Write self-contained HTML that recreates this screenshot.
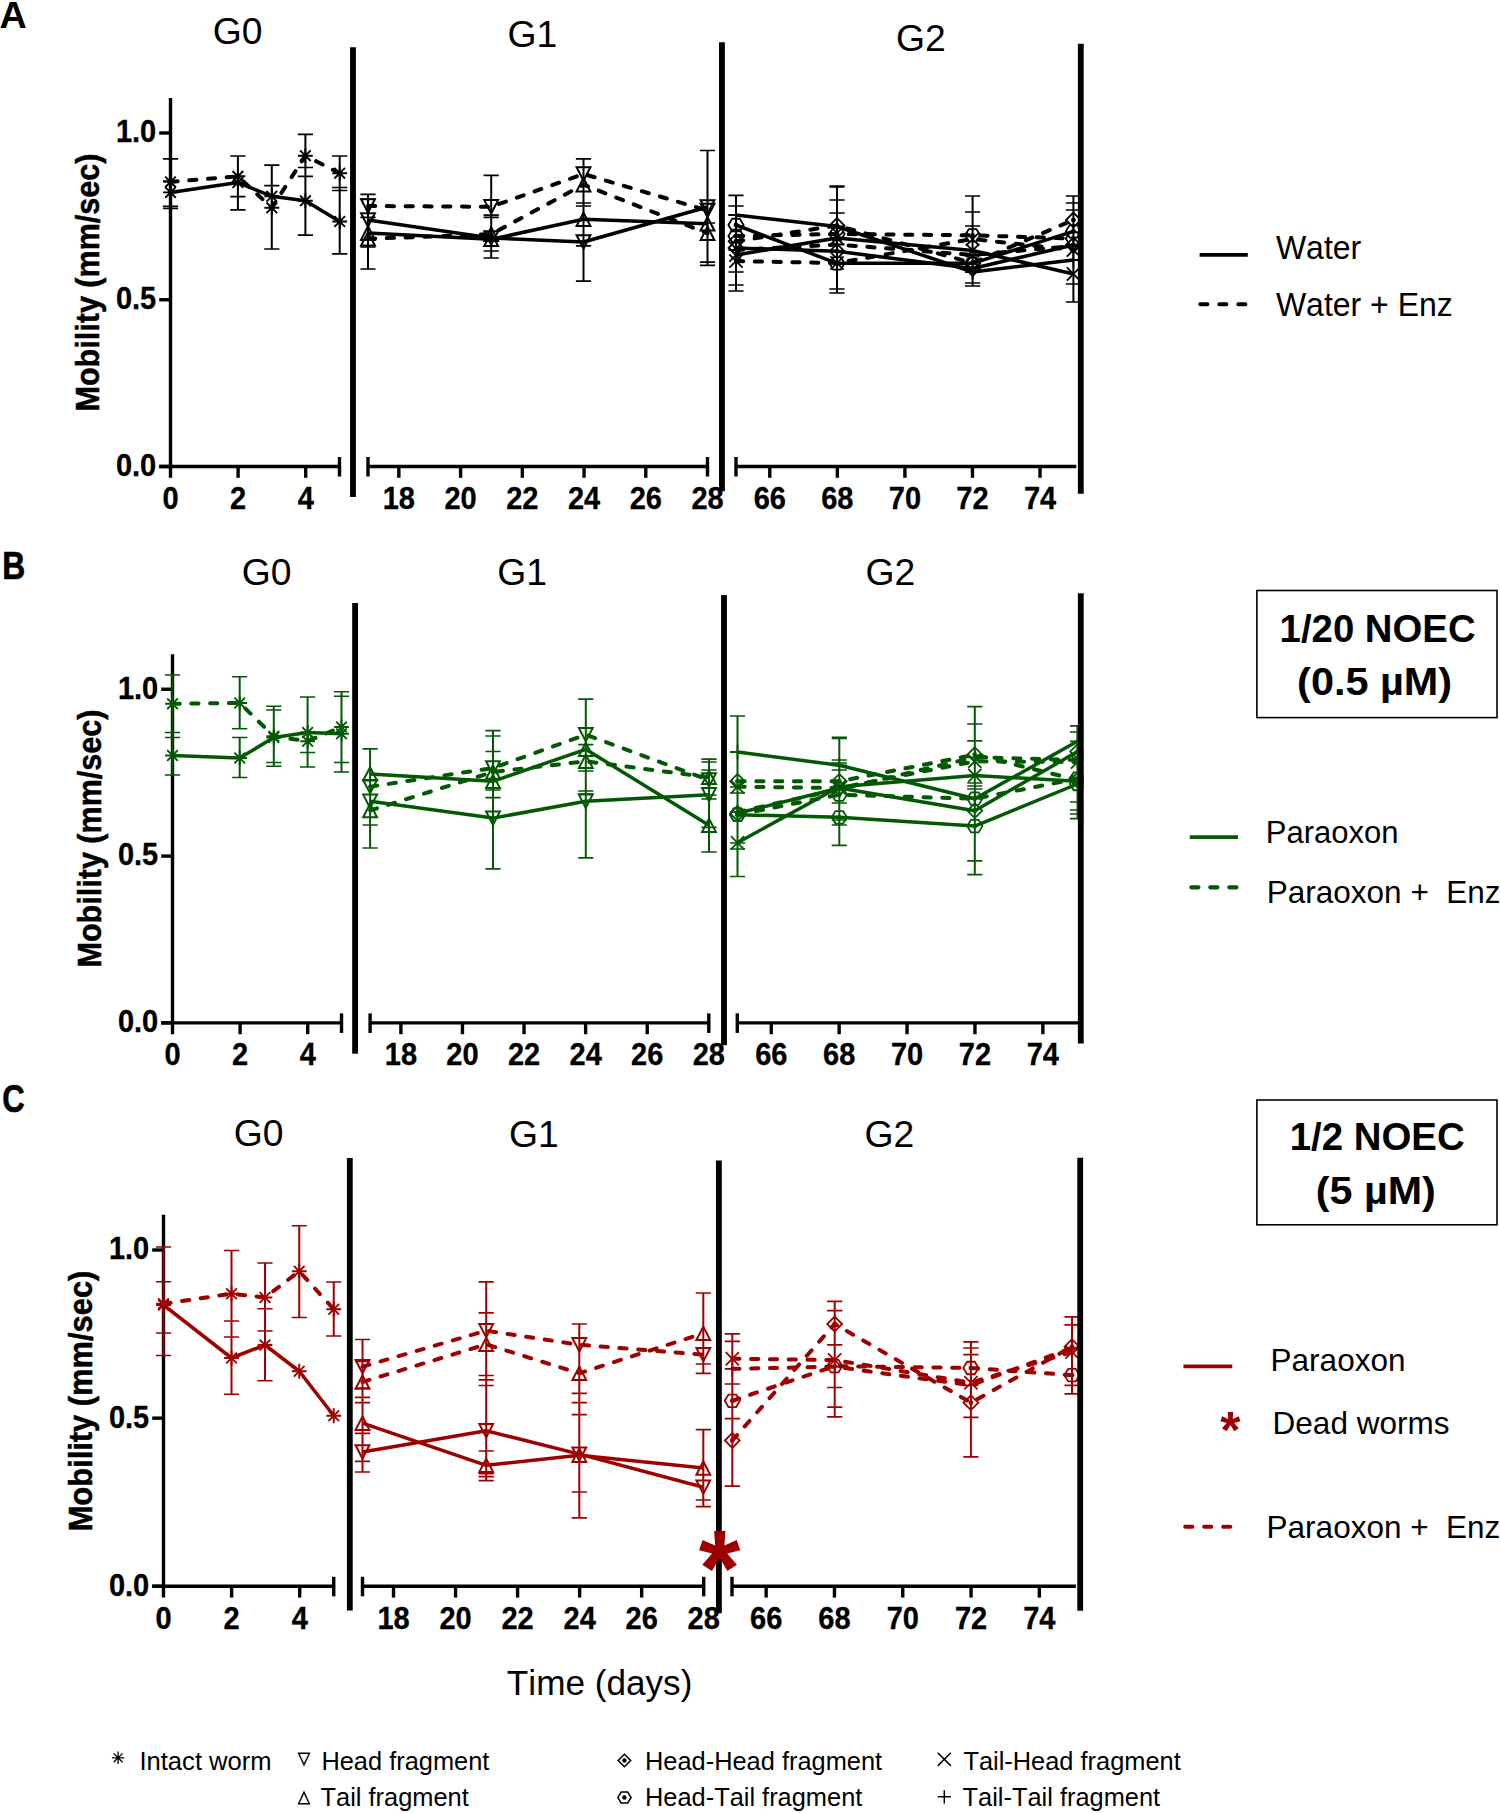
<!DOCTYPE html>
<html lang="en">
<head>
<meta charset="utf-8">
<title>Mobility of worms over generations</title>
<style>
html,body{margin:0;padding:0;background:#fff;}
body{width:1500px;height:1813px;font-family:"Liberation Sans",sans-serif;}
svg{display:block;}
text{font-kerning:none;white-space:pre;}
</style>
</head>
<body>
<svg width="1500" height="1813" viewBox="0 0 1500 1813" font-family='"Liberation Sans", sans-serif' role="img" aria-label="Mobility of worms over generations G0, G1 and G2">
<rect x="0" y="0" width="1500" height="1813" fill="#ffffff"/>
<defs><clipPath id="plotclip"><rect x="0" y="0" width="1083.4" height="1813"/></clipPath></defs>
<g>
<line x1="170.5" y1="97.98" x2="170.5" y2="477.8" stroke="#000000" stroke-width="3.4" stroke-linecap="butt"/>
<line x1="159.2" y1="466.5" x2="170.5" y2="466.5" stroke="#000000" stroke-width="3.4" stroke-linecap="butt"/>
<text x="0" y="0" font-size="29" font-weight="bold" text-anchor="end" transform="translate(156.2 475.9) scale(1 1.08)" stroke="#000000" stroke-width="0.3" fill="#000000">0.0</text>
<line x1="159.2" y1="299.75" x2="170.5" y2="299.75" stroke="#000000" stroke-width="3.4" stroke-linecap="butt"/>
<text x="0" y="0" font-size="29" font-weight="bold" text-anchor="end" transform="translate(156.2 309.15) scale(1 1.08)" stroke="#000000" stroke-width="0.3" fill="#000000">0.5</text>
<line x1="159.2" y1="133" x2="170.5" y2="133" stroke="#000000" stroke-width="3.4" stroke-linecap="butt"/>
<text x="0" y="0" font-size="29" font-weight="bold" text-anchor="end" transform="translate(156.2 142.4) scale(1 1.08)" stroke="#000000" stroke-width="0.3" fill="#000000">1.0</text>
<line x1="159.2" y1="466.5" x2="339.5" y2="466.5" stroke="#000000" stroke-width="3.4" stroke-linecap="butt"/>
<line x1="339.5" y1="457" x2="339.5" y2="476.5" stroke="#000000" stroke-width="3.4" stroke-linecap="butt"/>
<text x="0" y="0" font-size="29" font-weight="bold" text-anchor="middle" transform="translate(170.5 509) scale(1 1.08)" stroke="#000000" stroke-width="0.3" fill="#000000">0</text>
<line x1="238.1" y1="466.5" x2="238.1" y2="477.8" stroke="#000000" stroke-width="3.4" stroke-linecap="butt"/>
<text x="0" y="0" font-size="29" font-weight="bold" text-anchor="middle" transform="translate(238.1 509) scale(1 1.08)" stroke="#000000" stroke-width="0.3" fill="#000000">2</text>
<line x1="305.7" y1="466.5" x2="305.7" y2="477.8" stroke="#000000" stroke-width="3.4" stroke-linecap="butt"/>
<text x="0" y="0" font-size="29" font-weight="bold" text-anchor="middle" transform="translate(305.7 509) scale(1 1.08)" stroke="#000000" stroke-width="0.3" fill="#000000">4</text>
<line x1="368" y1="466.5" x2="707.5" y2="466.5" stroke="#000000" stroke-width="3.4" stroke-linecap="butt"/>
<line x1="368" y1="457" x2="368" y2="476.5" stroke="#000000" stroke-width="3.4" stroke-linecap="butt"/>
<line x1="707.5" y1="457" x2="707.5" y2="476.5" stroke="#000000" stroke-width="3.4" stroke-linecap="butt"/>
<line x1="398.86" y1="466.5" x2="398.86" y2="477.8" stroke="#000000" stroke-width="3.4" stroke-linecap="butt"/>
<text x="0" y="0" font-size="29" font-weight="bold" text-anchor="middle" transform="translate(398.86 509) scale(1 1.08)" stroke="#000000" stroke-width="0.3" fill="#000000">18</text>
<line x1="460.59" y1="466.5" x2="460.59" y2="477.8" stroke="#000000" stroke-width="3.4" stroke-linecap="butt"/>
<text x="0" y="0" font-size="29" font-weight="bold" text-anchor="middle" transform="translate(460.59 509) scale(1 1.08)" stroke="#000000" stroke-width="0.3" fill="#000000">20</text>
<line x1="522.32" y1="466.5" x2="522.32" y2="477.8" stroke="#000000" stroke-width="3.4" stroke-linecap="butt"/>
<text x="0" y="0" font-size="29" font-weight="bold" text-anchor="middle" transform="translate(522.32 509) scale(1 1.08)" stroke="#000000" stroke-width="0.3" fill="#000000">22</text>
<line x1="584.05" y1="466.5" x2="584.05" y2="477.8" stroke="#000000" stroke-width="3.4" stroke-linecap="butt"/>
<text x="0" y="0" font-size="29" font-weight="bold" text-anchor="middle" transform="translate(584.05 509) scale(1 1.08)" stroke="#000000" stroke-width="0.3" fill="#000000">24</text>
<line x1="645.77" y1="466.5" x2="645.77" y2="477.8" stroke="#000000" stroke-width="3.4" stroke-linecap="butt"/>
<text x="0" y="0" font-size="29" font-weight="bold" text-anchor="middle" transform="translate(645.77 509) scale(1 1.08)" stroke="#000000" stroke-width="0.3" fill="#000000">26</text>
<text x="0" y="0" font-size="29" font-weight="bold" text-anchor="middle" transform="translate(707.5 509) scale(1 1.08)" stroke="#000000" stroke-width="0.3" fill="#000000">28</text>
<line x1="736" y1="466.5" x2="1076.3" y2="466.5" stroke="#000000" stroke-width="3.4" stroke-linecap="butt"/>
<line x1="736" y1="457" x2="736" y2="476.5" stroke="#000000" stroke-width="3.4" stroke-linecap="butt"/>
<line x1="769.78" y1="466.5" x2="769.78" y2="477.8" stroke="#000000" stroke-width="3.4" stroke-linecap="butt"/>
<text x="0" y="0" font-size="29" font-weight="bold" text-anchor="middle" transform="translate(769.78 509) scale(1 1.08)" stroke="#000000" stroke-width="0.3" fill="#000000">66</text>
<line x1="837.34" y1="466.5" x2="837.34" y2="477.8" stroke="#000000" stroke-width="3.4" stroke-linecap="butt"/>
<text x="0" y="0" font-size="29" font-weight="bold" text-anchor="middle" transform="translate(837.34 509) scale(1 1.08)" stroke="#000000" stroke-width="0.3" fill="#000000">68</text>
<line x1="904.9" y1="466.5" x2="904.9" y2="477.8" stroke="#000000" stroke-width="3.4" stroke-linecap="butt"/>
<text x="0" y="0" font-size="29" font-weight="bold" text-anchor="middle" transform="translate(904.9 509) scale(1 1.08)" stroke="#000000" stroke-width="0.3" fill="#000000">70</text>
<line x1="972.46" y1="466.5" x2="972.46" y2="477.8" stroke="#000000" stroke-width="3.4" stroke-linecap="butt"/>
<text x="0" y="0" font-size="29" font-weight="bold" text-anchor="middle" transform="translate(972.46 509) scale(1 1.08)" stroke="#000000" stroke-width="0.3" fill="#000000">72</text>
<line x1="1040.02" y1="466.5" x2="1040.02" y2="477.8" stroke="#000000" stroke-width="3.4" stroke-linecap="butt"/>
<text x="0" y="0" font-size="29" font-weight="bold" text-anchor="middle" transform="translate(1040.02 509) scale(1 1.08)" stroke="#000000" stroke-width="0.3" fill="#000000">74</text>
<text x="0" y="0" font-size="33" font-weight="bold" textLength="258" lengthAdjust="spacingAndGlyphs" transform="translate(99.1 411.5) rotate(-90)" stroke="#000000" stroke-width="0.5" fill="#000000">Mobility (mm/sec)</text>
<g clip-path="url(#plotclip)">
<path d="M170.5 158.8V208.5" stroke="#000000" stroke-width="2.0" fill="none"/>
<path d="M162.9 158.8H178.1M162.9 181H178.1M162.9 206.4H178.1M162.9 208.5H178.1" stroke="#000000" stroke-width="1.7" fill="none"/>
<path d="M237.9 156V209.9" stroke="#000000" stroke-width="2.0" fill="none"/>
<path d="M230.3 156H245.5M230.3 196.6H245.5M230.3 209.9H245.5" stroke="#000000" stroke-width="1.7" fill="none"/>
<path d="M271.8 165.1V249" stroke="#000000" stroke-width="2.0" fill="none"/>
<path d="M264.2 165.1H279.4M264.2 185.7H279.4M264.2 249H279.4" stroke="#000000" stroke-width="1.7" fill="none"/>
<path d="M305.4 134.3V235.1" stroke="#000000" stroke-width="2.0" fill="none"/>
<path d="M297.8 134.3H313M297.8 167.5H313M297.8 176.3H313M297.8 235.1H313" stroke="#000000" stroke-width="1.7" fill="none"/>
<path d="M339.7 156V253.9" stroke="#000000" stroke-width="2.0" fill="none"/>
<path d="M332.1 156H347.3M332.1 187.5H347.3M332.1 190.5H347.3M332.1 253.9H347.3" stroke="#000000" stroke-width="1.7" fill="none"/>
<path d="M368 194.4V269" stroke="#000000" stroke-width="2.0" fill="none"/>
<path d="M360.4 194.4H375.6M360.4 199H375.6M360.4 217.3H375.6M360.4 240H375.6M360.4 247H375.6M360.4 269H375.6" stroke="#000000" stroke-width="1.7" fill="none"/>
<path d="M491.2 175.3V258" stroke="#000000" stroke-width="2.0" fill="none"/>
<path d="M483.6 175.3H498.8M483.6 215.2H498.8M483.6 217.3H498.8M483.6 251H498.8M483.6 258H498.8" stroke="#000000" stroke-width="1.7" fill="none"/>
<path d="M583.5 158.8V281.2" stroke="#000000" stroke-width="2.0" fill="none"/>
<path d="M575.9 158.8H591.1M575.9 203H591.1M575.9 206H591.1M575.9 245.8H591.1M575.9 281.2H591.1" stroke="#000000" stroke-width="1.7" fill="none"/>
<path d="M707.5 150.5V265.4" stroke="#000000" stroke-width="2.0" fill="none"/>
<path d="M699.9 150.5H715.1M699.9 223H715.1M699.9 262.2H715.1M699.9 265.4H715.1" stroke="#000000" stroke-width="1.7" fill="none"/>
<path d="M736 195.3V291" stroke="#000000" stroke-width="2.0" fill="none"/>
<path d="M728.4 195.3H743.6M728.4 206H743.6M728.4 215H743.6M728.4 272H743.6M728.4 285H743.6M728.4 291H743.6" stroke="#000000" stroke-width="1.7" fill="none"/>
<path d="M837 186V293" stroke="#000000" stroke-width="2.0" fill="none"/>
<path d="M829.4 186H844.6M829.4 187H844.6M829.4 200H844.6M829.4 213H844.6M829.4 289H844.6M829.4 293H844.6" stroke="#000000" stroke-width="1.7" fill="none"/>
<path d="M972.6 196V286" stroke="#000000" stroke-width="2.0" fill="none"/>
<path d="M965 196H980.2M965 212H980.2M965 226H980.2M965 283H980.2M965 286H980.2" stroke="#000000" stroke-width="1.7" fill="none"/>
<path d="M1073.4 196V302" stroke="#000000" stroke-width="2.0" fill="none"/>
<path d="M1065.8 196H1081M1065.8 203H1081M1065.8 210H1081M1065.8 284H1081M1065.8 302H1081" stroke="#000000" stroke-width="1.7" fill="none"/>
<polyline points="170.5,192.4 237.9,182.6 271.8,196.3 305.4,200.8 339.7,221.5" fill="none" stroke="#000000" stroke-width="3.5" stroke-linejoin="round"/>
<path d="M163.1 192.4H177.9M170.5 185V199.8M165.17 187.07L175.83 197.73M165.17 197.73L175.83 187.07" stroke="#000000" stroke-width="1.9" fill="none"/>
<path d="M230.5 182.6H245.3M237.9 175.2V190M232.57 177.27L243.23 187.93M232.57 187.93L243.23 177.27" stroke="#000000" stroke-width="1.9" fill="none"/>
<path d="M264.4 196.3H279.2M271.8 188.9V203.7M266.47 190.97L277.13 201.63M266.47 201.63L277.13 190.97" stroke="#000000" stroke-width="1.9" fill="none"/>
<path d="M298 200.8H312.8M305.4 193.4V208.2M300.07 195.47L310.73 206.13M300.07 206.13L310.73 195.47" stroke="#000000" stroke-width="1.9" fill="none"/>
<path d="M332.3 221.5H347.1M339.7 214.1V228.9M334.37 216.17L345.03 226.83M334.37 226.83L345.03 216.17" stroke="#000000" stroke-width="1.9" fill="none"/>
<polyline points="170.5,181.9 237.9,176.3 271.8,207.8 305.4,155.7 339.7,173.2" fill="none" stroke="#000000" stroke-width="4" stroke-linecap="round" stroke-linejoin="round" stroke-dasharray="7.2 11.6"/>
<path d="M163.1 181.9H177.9M170.5 174.5V189.3M165.17 176.57L175.83 187.23M165.17 187.23L175.83 176.57" stroke="#000000" stroke-width="1.9" fill="none"/>
<path d="M230.5 176.3H245.3M237.9 168.9V183.7M232.57 170.97L243.23 181.63M232.57 181.63L243.23 170.97" stroke="#000000" stroke-width="1.9" fill="none"/>
<path d="M264.4 207.8H279.2M271.8 200.4V215.2M266.47 202.47L277.13 213.13M266.47 213.13L277.13 202.47" stroke="#000000" stroke-width="1.9" fill="none"/>
<path d="M298 155.7H312.8M305.4 148.3V163.1M300.07 150.37L310.73 161.03M300.07 161.03L310.73 150.37" stroke="#000000" stroke-width="1.9" fill="none"/>
<path d="M332.3 173.2H347.1M339.7 165.8V180.6M334.37 167.87L345.03 178.53M334.37 178.53L345.03 167.87" stroke="#000000" stroke-width="1.9" fill="none"/>
<polyline points="368,206 491.2,206.8 583.5,174 707.5,210.5" fill="none" stroke="#000000" stroke-width="4" stroke-linecap="round" stroke-linejoin="round" stroke-dasharray="7.2 11.6"/>
<path d="M361.1 199.3H374.9L368 212.7Z" stroke="#000000" stroke-width="2.0" fill="none" stroke-linejoin="miter"/>
<path d="M484.3 200.1H498.1L491.2 213.5Z" stroke="#000000" stroke-width="2.0" fill="none" stroke-linejoin="miter"/>
<path d="M576.6 167.3H590.4L583.5 180.7Z" stroke="#000000" stroke-width="2.0" fill="none" stroke-linejoin="miter"/>
<path d="M700.6 203.8H714.4L707.5 217.2Z" stroke="#000000" stroke-width="2.0" fill="none" stroke-linejoin="miter"/>
<polyline points="368,238.8 491.2,234.2 583.5,184.7 707.5,233.3" fill="none" stroke="#000000" stroke-width="4" stroke-linecap="round" stroke-linejoin="round" stroke-dasharray="7.2 11.6"/>
<path d="M361.1 245.5H374.9L368 232.1Z" stroke="#000000" stroke-width="2.0" fill="none" stroke-linejoin="miter"/>
<path d="M484.3 240.9H498.1L491.2 227.5Z" stroke="#000000" stroke-width="2.0" fill="none" stroke-linejoin="miter"/>
<path d="M576.6 191.4H590.4L583.5 178Z" stroke="#000000" stroke-width="2.0" fill="none" stroke-linejoin="miter"/>
<path d="M700.6 240H714.4L707.5 226.6Z" stroke="#000000" stroke-width="2.0" fill="none" stroke-linejoin="miter"/>
<polyline points="368,220 491.2,238 583.5,242 707.5,207" fill="none" stroke="#000000" stroke-width="3.5" stroke-linejoin="round"/>
<path d="M361.1 213.3H374.9L368 226.7Z" stroke="#000000" stroke-width="2.0" fill="none" stroke-linejoin="miter"/>
<path d="M484.3 231.3H498.1L491.2 244.7Z" stroke="#000000" stroke-width="2.0" fill="none" stroke-linejoin="miter"/>
<path d="M576.6 235.3H590.4L583.5 248.7Z" stroke="#000000" stroke-width="2.0" fill="none" stroke-linejoin="miter"/>
<path d="M700.6 200.3H714.4L707.5 213.7Z" stroke="#000000" stroke-width="2.0" fill="none" stroke-linejoin="miter"/>
<polyline points="368,233 491.2,239.3 583.5,219.3 707.5,223.8" fill="none" stroke="#000000" stroke-width="3.5" stroke-linejoin="round"/>
<path d="M361.1 239.7H374.9L368 226.3Z" stroke="#000000" stroke-width="2.0" fill="none" stroke-linejoin="miter"/>
<path d="M484.3 246H498.1L491.2 232.6Z" stroke="#000000" stroke-width="2.0" fill="none" stroke-linejoin="miter"/>
<path d="M576.6 226H590.4L583.5 212.6Z" stroke="#000000" stroke-width="2.0" fill="none" stroke-linejoin="miter"/>
<path d="M700.6 230.5H714.4L707.5 217.1Z" stroke="#000000" stroke-width="2.0" fill="none" stroke-linejoin="miter"/>
<polyline points="736,215 837,226.5 972.6,272 1073.4,260" fill="none" stroke="#000000" stroke-width="3.5" stroke-linejoin="round"/>
<path d="M728.5 215H743.5M736 207.5V222.5" stroke="#000000" stroke-width="1.8" fill="none"/>
<path d="M829.5 226.5H844.5M837 219V234" stroke="#000000" stroke-width="1.8" fill="none"/>
<path d="M965.1 272H980.1M972.6 264.5V279.5" stroke="#000000" stroke-width="1.8" fill="none"/>
<path d="M1065.9 260H1080.9M1073.4 252.5V267.5" stroke="#000000" stroke-width="1.8" fill="none"/>
<polyline points="736,225 837,263.3 972.6,263.3 1073.4,231.3" fill="none" stroke="#000000" stroke-width="3.5" stroke-linejoin="round"/>
<path d="M743.6 225L739.8 231.25L732.2 231.25L728.4 225L732.2 218.75L739.8 218.75Z" stroke="#000000" stroke-width="1.8" fill="none"/>
<circle cx="736" cy="225" r="2.4" fill="#000000"/>
<path d="M844.6 263.3L840.8 269.55L833.2 269.55L829.4 263.3L833.2 257.05L840.8 257.05Z" stroke="#000000" stroke-width="1.8" fill="none"/>
<circle cx="837" cy="263.3" r="2.4" fill="#000000"/>
<path d="M980.2 263.3L976.4 269.55L968.8 269.55L965 263.3L968.8 257.05L976.4 257.05Z" stroke="#000000" stroke-width="1.8" fill="none"/>
<circle cx="972.6" cy="263.3" r="2.4" fill="#000000"/>
<path d="M1081 231.3L1077.2 237.55L1069.6 237.55L1065.8 231.3L1069.6 225.05L1077.2 225.05Z" stroke="#000000" stroke-width="1.8" fill="none"/>
<circle cx="1073.4" cy="231.3" r="2.4" fill="#000000"/>
<polyline points="736,255 837,238 972.6,250.5 1073.4,274" fill="none" stroke="#000000" stroke-width="3.5" stroke-linejoin="round"/>
<path d="M729.4 248.4L742.6 261.6M729.4 261.6L742.6 248.4" stroke="#000000" stroke-width="1.8" fill="none"/>
<path d="M830.4 231.4L843.6 244.6M830.4 244.6L843.6 231.4" stroke="#000000" stroke-width="1.8" fill="none"/>
<path d="M966 243.9L979.2 257.1M966 257.1L979.2 243.9" stroke="#000000" stroke-width="1.8" fill="none"/>
<path d="M1066.8 267.4L1080 280.6M1066.8 280.6L1080 267.4" stroke="#000000" stroke-width="1.8" fill="none"/>
<polyline points="736,248 837,251.3 972.6,268.5 1073.4,245" fill="none" stroke="#000000" stroke-width="3.5" stroke-linejoin="round"/>
<path d="M728.6 248L736 240.6L743.4 248L736 255.4Z" stroke="#000000" stroke-width="1.8" fill="none"/>
<circle cx="736" cy="248" r="2.4" fill="#000000"/>
<path d="M829.6 251.3L837 243.9L844.4 251.3L837 258.7Z" stroke="#000000" stroke-width="1.8" fill="none"/>
<circle cx="837" cy="251.3" r="2.4" fill="#000000"/>
<path d="M965.2 268.5L972.6 261.1L980 268.5L972.6 275.9Z" stroke="#000000" stroke-width="1.8" fill="none"/>
<circle cx="972.6" cy="268.5" r="2.4" fill="#000000"/>
<path d="M1066 245L1073.4 237.6L1080.8 245L1073.4 252.4Z" stroke="#000000" stroke-width="1.8" fill="none"/>
<circle cx="1073.4" cy="245" r="2.4" fill="#000000"/>
<polyline points="736,241.3 837,225.5 972.6,263 1073.4,220" fill="none" stroke="#000000" stroke-width="4" stroke-linecap="round" stroke-linejoin="round" stroke-dasharray="7.2 11.6"/>
<path d="M728.6 241.3L736 233.9L743.4 241.3L736 248.7Z" stroke="#000000" stroke-width="1.8" fill="none"/>
<circle cx="736" cy="241.3" r="2.4" fill="#000000"/>
<path d="M829.6 225.5L837 218.1L844.4 225.5L837 232.9Z" stroke="#000000" stroke-width="1.8" fill="none"/>
<circle cx="837" cy="225.5" r="2.4" fill="#000000"/>
<path d="M965.2 263L972.6 255.6L980 263L972.6 270.4Z" stroke="#000000" stroke-width="1.8" fill="none"/>
<circle cx="972.6" cy="263" r="2.4" fill="#000000"/>
<path d="M1066 220L1073.4 212.6L1080.8 220L1073.4 227.4Z" stroke="#000000" stroke-width="1.8" fill="none"/>
<circle cx="1073.4" cy="220" r="2.4" fill="#000000"/>
<polyline points="736,236 837,234 972.6,235.3 1073.4,238.5" fill="none" stroke="#000000" stroke-width="4" stroke-linecap="round" stroke-linejoin="round" stroke-dasharray="7.2 11.6"/>
<path d="M743.6 236L739.8 242.25L732.2 242.25L728.4 236L732.2 229.75L739.8 229.75Z" stroke="#000000" stroke-width="1.8" fill="none"/>
<circle cx="736" cy="236" r="2.4" fill="#000000"/>
<path d="M844.6 234L840.8 240.25L833.2 240.25L829.4 234L833.2 227.75L840.8 227.75Z" stroke="#000000" stroke-width="1.8" fill="none"/>
<circle cx="837" cy="234" r="2.4" fill="#000000"/>
<path d="M980.2 235.3L976.4 241.55L968.8 241.55L965 235.3L968.8 229.05L976.4 229.05Z" stroke="#000000" stroke-width="1.8" fill="none"/>
<circle cx="972.6" cy="235.3" r="2.4" fill="#000000"/>
<path d="M1081 238.5L1077.2 244.75L1069.6 244.75L1065.8 238.5L1069.6 232.25L1077.2 232.25Z" stroke="#000000" stroke-width="1.8" fill="none"/>
<circle cx="1073.4" cy="238.5" r="2.4" fill="#000000"/>
<polyline points="736,261.1 837,263 972.6,239 1073.4,250" fill="none" stroke="#000000" stroke-width="4" stroke-linecap="round" stroke-linejoin="round" stroke-dasharray="7.2 11.6"/>
<path d="M729.4 254.5L742.6 267.7M729.4 267.7L742.6 254.5" stroke="#000000" stroke-width="1.8" fill="none"/>
<path d="M830.4 256.4L843.6 269.6M830.4 269.6L843.6 256.4" stroke="#000000" stroke-width="1.8" fill="none"/>
<path d="M966 232.4L979.2 245.6M966 245.6L979.2 232.4" stroke="#000000" stroke-width="1.8" fill="none"/>
<path d="M1066.8 243.4L1080 256.6M1066.8 256.6L1080 243.4" stroke="#000000" stroke-width="1.8" fill="none"/>
<polyline points="736,250 837,244.5 972.6,255 1073.4,246" fill="none" stroke="#000000" stroke-width="4" stroke-linecap="round" stroke-linejoin="round" stroke-dasharray="7.2 11.6"/>
<path d="M728.5 250H743.5M736 242.5V257.5" stroke="#000000" stroke-width="1.8" fill="none"/>
<path d="M829.5 244.5H844.5M837 237V252" stroke="#000000" stroke-width="1.8" fill="none"/>
<path d="M965.1 255H980.1M972.6 247.5V262.5" stroke="#000000" stroke-width="1.8" fill="none"/>
<path d="M1065.9 246H1080.9M1073.4 238.5V253.5" stroke="#000000" stroke-width="1.8" fill="none"/>
</g>
<line x1="353" y1="47.2" x2="353" y2="497" stroke="#000000" stroke-width="5.85" stroke-linecap="butt"/>
<line x1="721.95" y1="42.3" x2="721.95" y2="491.3" stroke="#000000" stroke-width="5.85" stroke-linecap="butt"/>
<line x1="1080.8" y1="43.7" x2="1080.8" y2="493.8" stroke="#000000" stroke-width="5.85" stroke-linecap="butt"/>
<text x="0" y="0" font-size="37.3" text-anchor="middle" transform="translate(237.5 44) scale(1 1.01)" fill="#000000">G0</text>
<text x="0" y="0" font-size="37.3" text-anchor="middle" transform="translate(532.35 46.7) scale(1 1.01)" fill="#000000">G1</text>
<text x="0" y="0" font-size="37.3" text-anchor="middle" transform="translate(920.8 51) scale(1 1.01)" fill="#000000">G2</text>
</g>
<g>
<line x1="172.5" y1="654.22" x2="172.5" y2="1034.2" stroke="#000000" stroke-width="3.4" stroke-linecap="butt"/>
<line x1="161.2" y1="1022.9" x2="172.5" y2="1022.9" stroke="#000000" stroke-width="3.4" stroke-linecap="butt"/>
<text x="0" y="0" font-size="29" font-weight="bold" text-anchor="end" transform="translate(158.2 1032.3) scale(1 1.08)" stroke="#000000" stroke-width="0.3" fill="#000000">0.0</text>
<line x1="161.2" y1="856.08" x2="172.5" y2="856.08" stroke="#000000" stroke-width="3.4" stroke-linecap="butt"/>
<text x="0" y="0" font-size="29" font-weight="bold" text-anchor="end" transform="translate(158.2 865.48) scale(1 1.08)" stroke="#000000" stroke-width="0.3" fill="#000000">0.5</text>
<line x1="161.2" y1="689.25" x2="172.5" y2="689.25" stroke="#000000" stroke-width="3.4" stroke-linecap="butt"/>
<text x="0" y="0" font-size="29" font-weight="bold" text-anchor="end" transform="translate(158.2 698.65) scale(1 1.08)" stroke="#000000" stroke-width="0.3" fill="#000000">1.0</text>
<line x1="161.2" y1="1022.9" x2="341.5" y2="1022.9" stroke="#000000" stroke-width="3.4" stroke-linecap="butt"/>
<line x1="341.5" y1="1013.4" x2="341.5" y2="1032.9" stroke="#000000" stroke-width="3.4" stroke-linecap="butt"/>
<text x="0" y="0" font-size="29" font-weight="bold" text-anchor="middle" transform="translate(172.5 1065.4) scale(1 1.08)" stroke="#000000" stroke-width="0.3" fill="#000000">0</text>
<line x1="240.1" y1="1022.9" x2="240.1" y2="1034.2" stroke="#000000" stroke-width="3.4" stroke-linecap="butt"/>
<text x="0" y="0" font-size="29" font-weight="bold" text-anchor="middle" transform="translate(240.1 1065.4) scale(1 1.08)" stroke="#000000" stroke-width="0.3" fill="#000000">2</text>
<line x1="307.7" y1="1022.9" x2="307.7" y2="1034.2" stroke="#000000" stroke-width="3.4" stroke-linecap="butt"/>
<text x="0" y="0" font-size="29" font-weight="bold" text-anchor="middle" transform="translate(307.7 1065.4) scale(1 1.08)" stroke="#000000" stroke-width="0.3" fill="#000000">4</text>
<line x1="370.1" y1="1022.9" x2="708.8" y2="1022.9" stroke="#000000" stroke-width="3.4" stroke-linecap="butt"/>
<line x1="370.1" y1="1013.4" x2="370.1" y2="1032.9" stroke="#000000" stroke-width="3.4" stroke-linecap="butt"/>
<line x1="708.8" y1="1013.4" x2="708.8" y2="1032.9" stroke="#000000" stroke-width="3.4" stroke-linecap="butt"/>
<line x1="400.89" y1="1022.9" x2="400.89" y2="1034.2" stroke="#000000" stroke-width="3.4" stroke-linecap="butt"/>
<text x="0" y="0" font-size="29" font-weight="bold" text-anchor="middle" transform="translate(400.89 1065.4) scale(1 1.08)" stroke="#000000" stroke-width="0.3" fill="#000000">18</text>
<line x1="462.47" y1="1022.9" x2="462.47" y2="1034.2" stroke="#000000" stroke-width="3.4" stroke-linecap="butt"/>
<text x="0" y="0" font-size="29" font-weight="bold" text-anchor="middle" transform="translate(462.47 1065.4) scale(1 1.08)" stroke="#000000" stroke-width="0.3" fill="#000000">20</text>
<line x1="524.05" y1="1022.9" x2="524.05" y2="1034.2" stroke="#000000" stroke-width="3.4" stroke-linecap="butt"/>
<text x="0" y="0" font-size="29" font-weight="bold" text-anchor="middle" transform="translate(524.05 1065.4) scale(1 1.08)" stroke="#000000" stroke-width="0.3" fill="#000000">22</text>
<line x1="585.64" y1="1022.9" x2="585.64" y2="1034.2" stroke="#000000" stroke-width="3.4" stroke-linecap="butt"/>
<text x="0" y="0" font-size="29" font-weight="bold" text-anchor="middle" transform="translate(585.64 1065.4) scale(1 1.08)" stroke="#000000" stroke-width="0.3" fill="#000000">24</text>
<line x1="647.22" y1="1022.9" x2="647.22" y2="1034.2" stroke="#000000" stroke-width="3.4" stroke-linecap="butt"/>
<text x="0" y="0" font-size="29" font-weight="bold" text-anchor="middle" transform="translate(647.22 1065.4) scale(1 1.08)" stroke="#000000" stroke-width="0.3" fill="#000000">26</text>
<text x="0" y="0" font-size="29" font-weight="bold" text-anchor="middle" transform="translate(708.8 1065.4) scale(1 1.08)" stroke="#000000" stroke-width="0.3" fill="#000000">28</text>
<line x1="737.3" y1="1022.9" x2="1078" y2="1022.9" stroke="#000000" stroke-width="3.4" stroke-linecap="butt"/>
<line x1="737.3" y1="1013.4" x2="737.3" y2="1032.9" stroke="#000000" stroke-width="3.4" stroke-linecap="butt"/>
<line x1="771.25" y1="1022.9" x2="771.25" y2="1034.2" stroke="#000000" stroke-width="3.4" stroke-linecap="butt"/>
<text x="0" y="0" font-size="29" font-weight="bold" text-anchor="middle" transform="translate(771.25 1065.4) scale(1 1.08)" stroke="#000000" stroke-width="0.3" fill="#000000">66</text>
<line x1="839.15" y1="1022.9" x2="839.15" y2="1034.2" stroke="#000000" stroke-width="3.4" stroke-linecap="butt"/>
<text x="0" y="0" font-size="29" font-weight="bold" text-anchor="middle" transform="translate(839.15 1065.4) scale(1 1.08)" stroke="#000000" stroke-width="0.3" fill="#000000">68</text>
<line x1="907.05" y1="1022.9" x2="907.05" y2="1034.2" stroke="#000000" stroke-width="3.4" stroke-linecap="butt"/>
<text x="0" y="0" font-size="29" font-weight="bold" text-anchor="middle" transform="translate(907.05 1065.4) scale(1 1.08)" stroke="#000000" stroke-width="0.3" fill="#000000">70</text>
<line x1="974.95" y1="1022.9" x2="974.95" y2="1034.2" stroke="#000000" stroke-width="3.4" stroke-linecap="butt"/>
<text x="0" y="0" font-size="29" font-weight="bold" text-anchor="middle" transform="translate(974.95 1065.4) scale(1 1.08)" stroke="#000000" stroke-width="0.3" fill="#000000">72</text>
<line x1="1042.85" y1="1022.9" x2="1042.85" y2="1034.2" stroke="#000000" stroke-width="3.4" stroke-linecap="butt"/>
<text x="0" y="0" font-size="29" font-weight="bold" text-anchor="middle" transform="translate(1042.85 1065.4) scale(1 1.08)" stroke="#000000" stroke-width="0.3" fill="#000000">74</text>
<text x="0" y="0" font-size="33" font-weight="bold" textLength="258" lengthAdjust="spacingAndGlyphs" transform="translate(101.2 967.5) rotate(-90)" stroke="#000000" stroke-width="0.5" fill="#000000">Mobility (mm/sec)</text>
<g clip-path="url(#plotclip)">
<path d="M172.5 675V775" stroke="#035803" stroke-width="2.0" fill="none"/>
<path d="M164.9 675H180.1M164.9 732.5H180.1M164.9 737.5H180.1M164.9 775H180.1" stroke="#035803" stroke-width="1.7" fill="none"/>
<path d="M239.7 676.75V728.75" stroke="#035803" stroke-width="2.0" fill="none"/>
<path d="M232.1 676.75H247.3M232.1 728.75H247.3" stroke="#035803" stroke-width="1.7" fill="none"/>
<path d="M239.7 737.5V777.5" stroke="#035803" stroke-width="2.0" fill="none"/>
<path d="M232.1 737.5H247.3M232.1 777.5H247.3" stroke="#035803" stroke-width="1.7" fill="none"/>
<path d="M273.8 706.25V766.25" stroke="#035803" stroke-width="2.0" fill="none"/>
<path d="M266.2 706.25H281.4M266.2 710H281.4M266.2 762.5H281.4M266.2 766.25H281.4" stroke="#035803" stroke-width="1.7" fill="none"/>
<path d="M307.6 697V767" stroke="#035803" stroke-width="2.0" fill="none"/>
<path d="M300 697H315.2M300 752.5H315.2M300 767H315.2" stroke="#035803" stroke-width="1.7" fill="none"/>
<path d="M341.5 691.75V772" stroke="#035803" stroke-width="2.0" fill="none"/>
<path d="M333.9 691.75H349.1M333.9 696.25H349.1M333.9 762.5H349.1M333.9 772H349.1" stroke="#035803" stroke-width="1.7" fill="none"/>
<path d="M370.1 748.8V848" stroke="#035803" stroke-width="2.0" fill="none"/>
<path d="M362.5 748.8H377.7M362.5 780H377.7M362.5 825H377.7M362.5 848H377.7" stroke="#035803" stroke-width="1.7" fill="none"/>
<path d="M493 730.7V868.8" stroke="#035803" stroke-width="2.0" fill="none"/>
<path d="M485.4 730.7H500.6M485.4 736H500.6M485.4 751.5H500.6M485.4 790H500.6M485.4 797.6H500.6M485.4 868.8H500.6" stroke="#035803" stroke-width="1.7" fill="none"/>
<path d="M585.8 699.2V857.9" stroke="#035803" stroke-width="2.0" fill="none"/>
<path d="M578.2 699.2H593.4M578.2 744.7H593.4M578.2 771H593.4M578.2 791H593.4M578.2 794H593.4M578.2 857.9H593.4" stroke="#035803" stroke-width="1.7" fill="none"/>
<path d="M709 759.2V852" stroke="#035803" stroke-width="2.0" fill="none"/>
<path d="M701.4 759.2H716.6M701.4 762H716.6M701.4 770H716.6M701.4 795H716.6M701.4 799H716.6M701.4 827.3H716.6M701.4 852H716.6" stroke="#035803" stroke-width="1.7" fill="none"/>
<path d="M737.5 716V876.5" stroke="#035803" stroke-width="2.0" fill="none"/>
<path d="M729.9 716H745.1M729.9 752H745.1M729.9 787H745.1M729.9 793H745.1M729.9 843H745.1M729.9 849H745.1M729.9 876.5H745.1" stroke="#035803" stroke-width="1.7" fill="none"/>
<path d="M839.3 737.3V845.3" stroke="#035803" stroke-width="2.0" fill="none"/>
<path d="M831.7 737.3H846.9M831.7 738.3H846.9M831.7 760H846.9M831.7 763H846.9M831.7 770H846.9M831.7 803H846.9M831.7 820H846.9M831.7 825H846.9M831.7 845.3H846.9" stroke="#035803" stroke-width="1.7" fill="none"/>
<path d="M974.8 706.7V874.7" stroke="#035803" stroke-width="2.0" fill="none"/>
<path d="M967.2 706.7H982.4M967.2 724H982.4M967.2 740.8H982.4M967.2 783H982.4M967.2 786H982.4M967.2 789H982.4M967.2 860.8H982.4M967.2 874.7H982.4" stroke="#035803" stroke-width="1.7" fill="none"/>
<path d="M1077.5 725.9V818.7" stroke="#035803" stroke-width="2.0" fill="none"/>
<path d="M1069.9 725.9H1085.1M1069.9 732H1085.1M1069.9 802H1085.1M1069.9 810H1085.1M1069.9 814H1085.1M1069.9 818.7H1085.1" stroke="#035803" stroke-width="1.7" fill="none"/>
<polyline points="172.5,755.5 239.7,758 273.8,737.5 307.6,732.5 341.5,733.75" fill="none" stroke="#035803" stroke-width="3.5" stroke-linejoin="round"/>
<path d="M165.1 755.5H179.9M172.5 748.1V762.9M167.17 750.17L177.83 760.83M167.17 760.83L177.83 750.17" stroke="#035803" stroke-width="1.9" fill="none"/>
<path d="M232.3 758H247.1M239.7 750.6V765.4M234.37 752.67L245.03 763.33M234.37 763.33L245.03 752.67" stroke="#035803" stroke-width="1.9" fill="none"/>
<path d="M266.4 737.5H281.2M273.8 730.1V744.9M268.47 732.17L279.13 742.83M268.47 742.83L279.13 732.17" stroke="#035803" stroke-width="1.9" fill="none"/>
<path d="M300.2 732.5H315M307.6 725.1V739.9M302.27 727.17L312.93 737.83M302.27 737.83L312.93 727.17" stroke="#035803" stroke-width="1.9" fill="none"/>
<path d="M334.1 733.75H348.9M341.5 726.35V741.15M336.17 728.42L346.83 739.08M336.17 739.08L346.83 728.42" stroke="#035803" stroke-width="1.9" fill="none"/>
<polyline points="172.5,703.75 239.7,703 273.8,736.25 307.6,741.25 341.5,727" fill="none" stroke="#035803" stroke-width="4" stroke-linecap="round" stroke-linejoin="round" stroke-dasharray="7.2 11.6"/>
<path d="M165.1 703.75H179.9M172.5 696.35V711.15M167.17 698.42L177.83 709.08M167.17 709.08L177.83 698.42" stroke="#035803" stroke-width="1.9" fill="none"/>
<path d="M232.3 703H247.1M239.7 695.6V710.4M234.37 697.67L245.03 708.33M234.37 708.33L245.03 697.67" stroke="#035803" stroke-width="1.9" fill="none"/>
<path d="M266.4 736.25H281.2M273.8 728.85V743.65M268.47 730.92L279.13 741.58M268.47 741.58L279.13 730.92" stroke="#035803" stroke-width="1.9" fill="none"/>
<path d="M300.2 741.25H315M307.6 733.85V748.65M302.27 735.92L312.93 746.58M302.27 746.58L312.93 735.92" stroke="#035803" stroke-width="1.9" fill="none"/>
<path d="M334.1 727H348.9M341.5 719.6V734.4M336.17 721.67L346.83 732.33M336.17 732.33L346.83 721.67" stroke="#035803" stroke-width="1.9" fill="none"/>
<polyline points="370.1,773.9 493,781.3 585.8,749.3 709,825.3" fill="none" stroke="#035803" stroke-width="3.5" stroke-linejoin="round"/>
<path d="M363.2 780.6H377L370.1 767.2Z" stroke="#035803" stroke-width="2.0" fill="none" stroke-linejoin="miter"/>
<path d="M486.1 788H499.9L493 774.6Z" stroke="#035803" stroke-width="2.0" fill="none" stroke-linejoin="miter"/>
<path d="M578.9 756H592.7L585.8 742.6Z" stroke="#035803" stroke-width="2.0" fill="none" stroke-linejoin="miter"/>
<path d="M702.1 832H715.9L709 818.6Z" stroke="#035803" stroke-width="2.0" fill="none" stroke-linejoin="miter"/>
<polyline points="370.1,801.3 493,818.1 585.8,801.3 709,794.7" fill="none" stroke="#035803" stroke-width="3.5" stroke-linejoin="round"/>
<path d="M363.2 794.6H377L370.1 808Z" stroke="#035803" stroke-width="2.0" fill="none" stroke-linejoin="miter"/>
<path d="M486.1 811.4H499.9L493 824.8Z" stroke="#035803" stroke-width="2.0" fill="none" stroke-linejoin="miter"/>
<path d="M578.9 794.6H592.7L585.8 808Z" stroke="#035803" stroke-width="2.0" fill="none" stroke-linejoin="miter"/>
<path d="M702.1 788H715.9L709 801.4Z" stroke="#035803" stroke-width="2.0" fill="none" stroke-linejoin="miter"/>
<polyline points="370.1,786.7 493,768 585.8,734.7 709,780" fill="none" stroke="#035803" stroke-width="4" stroke-linecap="round" stroke-linejoin="round" stroke-dasharray="7.2 11.6"/>
<path d="M363.2 780H377L370.1 793.4Z" stroke="#035803" stroke-width="2.0" fill="none" stroke-linejoin="miter"/>
<path d="M486.1 761.3H499.9L493 774.7Z" stroke="#035803" stroke-width="2.0" fill="none" stroke-linejoin="miter"/>
<path d="M578.9 728H592.7L585.8 741.4Z" stroke="#035803" stroke-width="2.0" fill="none" stroke-linejoin="miter"/>
<path d="M702.1 773.3H715.9L709 786.7Z" stroke="#035803" stroke-width="2.0" fill="none" stroke-linejoin="miter"/>
<polyline points="370.1,810.5 493,772 585.8,761.3 709,777.3" fill="none" stroke="#035803" stroke-width="4" stroke-linecap="round" stroke-linejoin="round" stroke-dasharray="7.2 11.6"/>
<path d="M363.2 817.2H377L370.1 803.8Z" stroke="#035803" stroke-width="2.0" fill="none" stroke-linejoin="miter"/>
<path d="M486.1 778.7H499.9L493 765.3Z" stroke="#035803" stroke-width="2.0" fill="none" stroke-linejoin="miter"/>
<path d="M578.9 768H592.7L585.8 754.6Z" stroke="#035803" stroke-width="2.0" fill="none" stroke-linejoin="miter"/>
<path d="M702.1 784H715.9L709 770.6Z" stroke="#035803" stroke-width="2.0" fill="none" stroke-linejoin="miter"/>
<polyline points="737.5,752 839.3,765.3 974.8,798.7 1077.5,741.3" fill="none" stroke="#035803" stroke-width="3.5" stroke-linejoin="round"/>
<path d="M730 752H745M737.5 744.5V759.5" stroke="#035803" stroke-width="1.8" fill="none"/>
<path d="M831.8 765.3H846.8M839.3 757.8V772.8" stroke="#035803" stroke-width="1.8" fill="none"/>
<path d="M967.3 798.7H982.3M974.8 791.2V806.2" stroke="#035803" stroke-width="1.8" fill="none"/>
<path d="M1070 741.3H1085M1077.5 733.8V748.8" stroke="#035803" stroke-width="1.8" fill="none"/>
<polyline points="737.5,814.7 839.3,817.3 974.8,826.1 1077.5,784" fill="none" stroke="#035803" stroke-width="3.5" stroke-linejoin="round"/>
<path d="M745.1 814.7L741.3 820.95L733.7 820.95L729.9 814.7L733.7 808.45L741.3 808.45Z" stroke="#035803" stroke-width="1.8" fill="none"/>
<circle cx="737.5" cy="814.7" r="2.4" fill="#035803"/>
<path d="M846.9 817.3L843.1 823.55L835.5 823.55L831.7 817.3L835.5 811.05L843.1 811.05Z" stroke="#035803" stroke-width="1.8" fill="none"/>
<circle cx="839.3" cy="817.3" r="2.4" fill="#035803"/>
<path d="M982.4 826.1L978.6 832.35L971 832.35L967.2 826.1L971 819.85L978.6 819.85Z" stroke="#035803" stroke-width="1.8" fill="none"/>
<circle cx="974.8" cy="826.1" r="2.4" fill="#035803"/>
<path d="M1085.1 784L1081.3 790.25L1073.7 790.25L1069.9 784L1073.7 777.75L1081.3 777.75Z" stroke="#035803" stroke-width="1.8" fill="none"/>
<circle cx="1077.5" cy="784" r="2.4" fill="#035803"/>
<polyline points="737.5,842.7 839.3,786.7 974.8,775.5 1077.5,781.3" fill="none" stroke="#035803" stroke-width="3.5" stroke-linejoin="round"/>
<path d="M730.9 836.1L744.1 849.3M730.9 849.3L744.1 836.1" stroke="#035803" stroke-width="1.8" fill="none"/>
<path d="M832.7 780.1L845.9 793.3M832.7 793.3L845.9 780.1" stroke="#035803" stroke-width="1.8" fill="none"/>
<path d="M968.2 768.9L981.4 782.1M968.2 782.1L981.4 768.9" stroke="#035803" stroke-width="1.8" fill="none"/>
<path d="M1070.9 774.7L1084.1 787.9M1070.9 787.9L1084.1 774.7" stroke="#035803" stroke-width="1.8" fill="none"/>
<polyline points="737.5,813.3 839.3,788 974.8,810.7 1077.5,751.6" fill="none" stroke="#035803" stroke-width="3.5" stroke-linejoin="round"/>
<path d="M730.1 813.3L737.5 805.9L744.9 813.3L737.5 820.7Z" stroke="#035803" stroke-width="1.8" fill="none"/>
<circle cx="737.5" cy="813.3" r="2.4" fill="#035803"/>
<path d="M831.9 788L839.3 780.6L846.7 788L839.3 795.4Z" stroke="#035803" stroke-width="1.8" fill="none"/>
<circle cx="839.3" cy="788" r="2.4" fill="#035803"/>
<path d="M967.4 810.7L974.8 803.3L982.2 810.7L974.8 818.1Z" stroke="#035803" stroke-width="1.8" fill="none"/>
<circle cx="974.8" cy="810.7" r="2.4" fill="#035803"/>
<path d="M1070.1 751.6L1077.5 744.2L1084.9 751.6L1077.5 759Z" stroke="#035803" stroke-width="1.8" fill="none"/>
<circle cx="1077.5" cy="751.6" r="2.4" fill="#035803"/>
<polyline points="737.5,781.3 839.3,781.3 974.8,754.7 1077.5,780" fill="none" stroke="#035803" stroke-width="4" stroke-linecap="round" stroke-linejoin="round" stroke-dasharray="7.2 11.6"/>
<path d="M730.1 781.3L737.5 773.9L744.9 781.3L737.5 788.7Z" stroke="#035803" stroke-width="1.8" fill="none"/>
<circle cx="737.5" cy="781.3" r="2.4" fill="#035803"/>
<path d="M831.9 781.3L839.3 773.9L846.7 781.3L839.3 788.7Z" stroke="#035803" stroke-width="1.8" fill="none"/>
<circle cx="839.3" cy="781.3" r="2.4" fill="#035803"/>
<path d="M967.4 754.7L974.8 747.3L982.2 754.7L974.8 762.1Z" stroke="#035803" stroke-width="1.8" fill="none"/>
<circle cx="974.8" cy="754.7" r="2.4" fill="#035803"/>
<path d="M1070.1 780L1077.5 772.6L1084.9 780L1077.5 787.4Z" stroke="#035803" stroke-width="1.8" fill="none"/>
<circle cx="1077.5" cy="780" r="2.4" fill="#035803"/>
<polyline points="737.5,786.7 839.3,788 974.8,761.3 1077.5,762" fill="none" stroke="#035803" stroke-width="4" stroke-linecap="round" stroke-linejoin="round" stroke-dasharray="7.2 11.6"/>
<path d="M730.9 780.1L744.1 793.3M730.9 793.3L744.1 780.1" stroke="#035803" stroke-width="1.8" fill="none"/>
<path d="M832.7 781.4L845.9 794.6M832.7 794.6L845.9 781.4" stroke="#035803" stroke-width="1.8" fill="none"/>
<path d="M968.2 754.7L981.4 767.9M968.2 767.9L981.4 754.7" stroke="#035803" stroke-width="1.8" fill="none"/>
<path d="M1070.9 755.4L1084.1 768.6M1070.9 768.6L1084.1 755.4" stroke="#035803" stroke-width="1.8" fill="none"/>
<polyline points="737.5,812 839.3,789.3 974.8,757.3 1077.5,760" fill="none" stroke="#035803" stroke-width="4" stroke-linecap="round" stroke-linejoin="round" stroke-dasharray="7.2 11.6"/>
<path d="M730 812H745M737.5 804.5V819.5" stroke="#035803" stroke-width="1.8" fill="none"/>
<path d="M831.8 789.3H846.8M839.3 781.8V796.8" stroke="#035803" stroke-width="1.8" fill="none"/>
<path d="M967.3 757.3H982.3M974.8 749.8V764.8" stroke="#035803" stroke-width="1.8" fill="none"/>
<path d="M1070 760H1085M1077.5 752.5V767.5" stroke="#035803" stroke-width="1.8" fill="none"/>
<polyline points="737.5,814.7 839.3,794.7 974.8,798.7 1077.5,778.7" fill="none" stroke="#035803" stroke-width="4" stroke-linecap="round" stroke-linejoin="round" stroke-dasharray="7.2 11.6"/>
<path d="M745.1 814.7L741.3 820.95L733.7 820.95L729.9 814.7L733.7 808.45L741.3 808.45Z" stroke="#035803" stroke-width="1.8" fill="none"/>
<circle cx="737.5" cy="814.7" r="2.4" fill="#035803"/>
<path d="M846.9 794.7L843.1 800.95L835.5 800.95L831.7 794.7L835.5 788.45L843.1 788.45Z" stroke="#035803" stroke-width="1.8" fill="none"/>
<circle cx="839.3" cy="794.7" r="2.4" fill="#035803"/>
<path d="M982.4 798.7L978.6 804.95L971 804.95L967.2 798.7L971 792.45L978.6 792.45Z" stroke="#035803" stroke-width="1.8" fill="none"/>
<circle cx="974.8" cy="798.7" r="2.4" fill="#035803"/>
<path d="M1085.1 778.7L1081.3 784.95L1073.7 784.95L1069.9 778.7L1073.7 772.45L1081.3 772.45Z" stroke="#035803" stroke-width="1.8" fill="none"/>
<circle cx="1077.5" cy="778.7" r="2.4" fill="#035803"/>
</g>
<line x1="355.1" y1="603" x2="355.1" y2="1053.75" stroke="#000000" stroke-width="5.85" stroke-linecap="butt"/>
<line x1="724" y1="595" x2="724" y2="1045.3" stroke="#000000" stroke-width="5.85" stroke-linecap="butt"/>
<line x1="1080.8" y1="593.3" x2="1080.8" y2="1043.5" stroke="#000000" stroke-width="5.85" stroke-linecap="butt"/>
<text x="0" y="0" font-size="37.3" text-anchor="middle" transform="translate(266.5 585) scale(1 1.01)" fill="#000000">G0</text>
<text x="0" y="0" font-size="37.3" text-anchor="middle" transform="translate(522.15 585.3) scale(1 1.01)" fill="#000000">G1</text>
<text x="0" y="0" font-size="37.3" text-anchor="middle" transform="translate(890.4 585.3) scale(1 1.01)" fill="#000000">G2</text>
</g>
<g>
<line x1="163.5" y1="1214.69" x2="163.5" y2="1597.6" stroke="#000000" stroke-width="3.4" stroke-linecap="butt"/>
<line x1="152.2" y1="1586.3" x2="163.5" y2="1586.3" stroke="#000000" stroke-width="3.4" stroke-linecap="butt"/>
<text x="0" y="0" font-size="29" font-weight="bold" text-anchor="end" transform="translate(149.2 1595.7) scale(1 1.08)" stroke="#000000" stroke-width="0.3" fill="#000000">0.0</text>
<line x1="152.2" y1="1418.15" x2="163.5" y2="1418.15" stroke="#000000" stroke-width="3.4" stroke-linecap="butt"/>
<text x="0" y="0" font-size="29" font-weight="bold" text-anchor="end" transform="translate(149.2 1427.55) scale(1 1.08)" stroke="#000000" stroke-width="0.3" fill="#000000">0.5</text>
<line x1="152.2" y1="1250" x2="163.5" y2="1250" stroke="#000000" stroke-width="3.4" stroke-linecap="butt"/>
<text x="0" y="0" font-size="29" font-weight="bold" text-anchor="end" transform="translate(149.2 1259.4) scale(1 1.08)" stroke="#000000" stroke-width="0.3" fill="#000000">1.0</text>
<line x1="152.2" y1="1586.3" x2="333.75" y2="1586.3" stroke="#000000" stroke-width="3.4" stroke-linecap="butt"/>
<line x1="333.75" y1="1576.8" x2="333.75" y2="1596.3" stroke="#000000" stroke-width="3.4" stroke-linecap="butt"/>
<text x="0" y="0" font-size="29" font-weight="bold" text-anchor="middle" transform="translate(163.5 1628.8) scale(1 1.08)" stroke="#000000" stroke-width="0.3" fill="#000000">0</text>
<line x1="231.6" y1="1586.3" x2="231.6" y2="1597.6" stroke="#000000" stroke-width="3.4" stroke-linecap="butt"/>
<text x="0" y="0" font-size="29" font-weight="bold" text-anchor="middle" transform="translate(231.6 1628.8) scale(1 1.08)" stroke="#000000" stroke-width="0.3" fill="#000000">2</text>
<line x1="299.7" y1="1586.3" x2="299.7" y2="1597.6" stroke="#000000" stroke-width="3.4" stroke-linecap="butt"/>
<text x="0" y="0" font-size="29" font-weight="bold" text-anchor="middle" transform="translate(299.7 1628.8) scale(1 1.08)" stroke="#000000" stroke-width="0.3" fill="#000000">4</text>
<line x1="362.5" y1="1586.3" x2="703.7" y2="1586.3" stroke="#000000" stroke-width="3.4" stroke-linecap="butt"/>
<line x1="362.5" y1="1576.8" x2="362.5" y2="1596.3" stroke="#000000" stroke-width="3.4" stroke-linecap="butt"/>
<line x1="703.7" y1="1576.8" x2="703.7" y2="1596.3" stroke="#000000" stroke-width="3.4" stroke-linecap="butt"/>
<line x1="393.52" y1="1586.3" x2="393.52" y2="1597.6" stroke="#000000" stroke-width="3.4" stroke-linecap="butt"/>
<text x="0" y="0" font-size="29" font-weight="bold" text-anchor="middle" transform="translate(393.52 1628.8) scale(1 1.08)" stroke="#000000" stroke-width="0.3" fill="#000000">18</text>
<line x1="455.55" y1="1586.3" x2="455.55" y2="1597.6" stroke="#000000" stroke-width="3.4" stroke-linecap="butt"/>
<text x="0" y="0" font-size="29" font-weight="bold" text-anchor="middle" transform="translate(455.55 1628.8) scale(1 1.08)" stroke="#000000" stroke-width="0.3" fill="#000000">20</text>
<line x1="517.59" y1="1586.3" x2="517.59" y2="1597.6" stroke="#000000" stroke-width="3.4" stroke-linecap="butt"/>
<text x="0" y="0" font-size="29" font-weight="bold" text-anchor="middle" transform="translate(517.59 1628.8) scale(1 1.08)" stroke="#000000" stroke-width="0.3" fill="#000000">22</text>
<line x1="579.63" y1="1586.3" x2="579.63" y2="1597.6" stroke="#000000" stroke-width="3.4" stroke-linecap="butt"/>
<text x="0" y="0" font-size="29" font-weight="bold" text-anchor="middle" transform="translate(579.63 1628.8) scale(1 1.08)" stroke="#000000" stroke-width="0.3" fill="#000000">24</text>
<line x1="641.66" y1="1586.3" x2="641.66" y2="1597.6" stroke="#000000" stroke-width="3.4" stroke-linecap="butt"/>
<text x="0" y="0" font-size="29" font-weight="bold" text-anchor="middle" transform="translate(641.66 1628.8) scale(1 1.08)" stroke="#000000" stroke-width="0.3" fill="#000000">26</text>
<text x="0" y="0" font-size="29" font-weight="bold" text-anchor="middle" transform="translate(703.7 1628.8) scale(1 1.08)" stroke="#000000" stroke-width="0.3" fill="#000000">28</text>
<line x1="732" y1="1586.3" x2="1075.9" y2="1586.3" stroke="#000000" stroke-width="3.4" stroke-linecap="butt"/>
<line x1="732" y1="1576.8" x2="732" y2="1596.3" stroke="#000000" stroke-width="3.4" stroke-linecap="butt"/>
<line x1="766.15" y1="1586.3" x2="766.15" y2="1597.6" stroke="#000000" stroke-width="3.4" stroke-linecap="butt"/>
<text x="0" y="0" font-size="29" font-weight="bold" text-anchor="middle" transform="translate(766.15 1628.8) scale(1 1.08)" stroke="#000000" stroke-width="0.3" fill="#000000">66</text>
<line x1="834.45" y1="1586.3" x2="834.45" y2="1597.6" stroke="#000000" stroke-width="3.4" stroke-linecap="butt"/>
<text x="0" y="0" font-size="29" font-weight="bold" text-anchor="middle" transform="translate(834.45 1628.8) scale(1 1.08)" stroke="#000000" stroke-width="0.3" fill="#000000">68</text>
<line x1="902.75" y1="1586.3" x2="902.75" y2="1597.6" stroke="#000000" stroke-width="3.4" stroke-linecap="butt"/>
<text x="0" y="0" font-size="29" font-weight="bold" text-anchor="middle" transform="translate(902.75 1628.8) scale(1 1.08)" stroke="#000000" stroke-width="0.3" fill="#000000">70</text>
<line x1="971.05" y1="1586.3" x2="971.05" y2="1597.6" stroke="#000000" stroke-width="3.4" stroke-linecap="butt"/>
<text x="0" y="0" font-size="29" font-weight="bold" text-anchor="middle" transform="translate(971.05 1628.8) scale(1 1.08)" stroke="#000000" stroke-width="0.3" fill="#000000">72</text>
<line x1="1039.35" y1="1586.3" x2="1039.35" y2="1597.6" stroke="#000000" stroke-width="3.4" stroke-linecap="butt"/>
<text x="0" y="0" font-size="29" font-weight="bold" text-anchor="middle" transform="translate(1039.35 1628.8) scale(1 1.08)" stroke="#000000" stroke-width="0.3" fill="#000000">74</text>
<text x="0" y="0" font-size="33.5" font-weight="bold" textLength="260.7" lengthAdjust="spacingAndGlyphs" transform="translate(92 1531.35) rotate(-90)" stroke="#000000" stroke-width="0.5" fill="#000000">Mobility (mm/sec)</text>
<g clip-path="url(#plotclip)">
<path d="M163.5 1247V1355.5" stroke="#9e0000" stroke-width="2.0" fill="none"/>
<path d="M155.9 1247H171.1M155.9 1281.75H171.1M155.9 1333H171.1M155.9 1355.5H171.1" stroke="#9e0000" stroke-width="1.7" fill="none"/>
<path d="M231.5 1250.5V1394.25" stroke="#9e0000" stroke-width="2.0" fill="none"/>
<path d="M223.9 1250.5H239.1M223.9 1321H239.1M223.9 1337H239.1M223.9 1394.25H239.1" stroke="#9e0000" stroke-width="1.7" fill="none"/>
<path d="M265 1263V1380.75" stroke="#9e0000" stroke-width="2.0" fill="none"/>
<path d="M257.4 1263H272.6M257.4 1308.75H272.6M257.4 1331H272.6M257.4 1380.75H272.6" stroke="#9e0000" stroke-width="1.7" fill="none"/>
<path d="M299.25 1225.75V1317.5" stroke="#9e0000" stroke-width="2.0" fill="none"/>
<path d="M291.65 1225.75H306.85M291.65 1317.5H306.85" stroke="#9e0000" stroke-width="1.7" fill="none"/>
<path d="M333.75 1282V1336" stroke="#9e0000" stroke-width="2.0" fill="none"/>
<path d="M326.15 1282H341.35M326.15 1336H341.35" stroke="#9e0000" stroke-width="1.7" fill="none"/>
<path d="M362.5 1339.5V1472" stroke="#9e0000" stroke-width="2.0" fill="none"/>
<path d="M354.9 1339.5H370.1M354.9 1361.3H370.1M354.9 1388H370.1M354.9 1397.3H370.1M354.9 1402.7H370.1M354.9 1433.3H370.1M354.9 1461.3H370.1M354.9 1472H370.1" stroke="#9e0000" stroke-width="1.7" fill="none"/>
<path d="M486.2 1281.9V1480.5" stroke="#9e0000" stroke-width="2.0" fill="none"/>
<path d="M478.6 1281.9H493.8M478.6 1312.8H493.8M478.6 1375.5H493.8M478.6 1379.8H493.8M478.6 1385.5H493.8M478.6 1451H493.8M478.6 1473.7H493.8M478.6 1476.6H493.8M478.6 1480.6H493.8" stroke="#9e0000" stroke-width="1.7" fill="none"/>
<path d="M579.3 1324V1517.9" stroke="#9e0000" stroke-width="2.0" fill="none"/>
<path d="M571.7 1324H586.9M571.7 1393.3H586.9M571.7 1402.7H586.9M571.7 1414.7H586.9M571.7 1492H586.9M571.7 1517.9H586.9" stroke="#9e0000" stroke-width="1.7" fill="none"/>
<path d="M703.3 1293V1373.3" stroke="#9e0000" stroke-width="2.0" fill="none"/>
<path d="M695.7 1293H710.9M695.7 1364H710.9M695.7 1373.3H710.9" stroke="#9e0000" stroke-width="1.7" fill="none"/>
<path d="M703.3 1429.6V1506.7" stroke="#9e0000" stroke-width="2.0" fill="none"/>
<path d="M695.7 1429.6H710.9M695.7 1500H710.9M695.7 1506.7H710.9" stroke="#9e0000" stroke-width="1.7" fill="none"/>
<path d="M732.3 1333.9V1486.1" stroke="#9e0000" stroke-width="2.0" fill="none"/>
<path d="M724.7 1333.9H739.9M724.7 1341.3H739.9M724.7 1384H739.9M724.7 1418.7H739.9M724.7 1486.1H739.9" stroke="#9e0000" stroke-width="1.7" fill="none"/>
<path d="M834.7 1301.3V1416.8" stroke="#9e0000" stroke-width="2.0" fill="none"/>
<path d="M827.1 1301.3H842.3M827.1 1310.7H842.3M827.1 1344.8H842.3M827.1 1387.5H842.3M827.1 1407.2H842.3M827.1 1416.8H842.3" stroke="#9e0000" stroke-width="1.7" fill="none"/>
<path d="M970.9 1341.9V1456.8" stroke="#9e0000" stroke-width="2.0" fill="none"/>
<path d="M963.3 1341.9H978.5M963.3 1348H978.5M963.3 1354.7H978.5M963.3 1417.3H978.5M963.3 1456.8H978.5" stroke="#9e0000" stroke-width="1.7" fill="none"/>
<path d="M1072 1316.8V1393.9" stroke="#9e0000" stroke-width="2.0" fill="none"/>
<path d="M1064.4 1316.8H1079.6M1064.4 1324.8H1079.6M1064.4 1385.3H1079.6M1064.4 1393.9H1079.6" stroke="#9e0000" stroke-width="1.7" fill="none"/>
<polyline points="163.5,1305 231.5,1358 265,1345 299.25,1371.25 333.75,1415.75" fill="none" stroke="#9e0000" stroke-width="3.5" stroke-linejoin="round"/>
<path d="M156.1 1305H170.9M163.5 1297.6V1312.4M158.17 1299.67L168.83 1310.33M158.17 1310.33L168.83 1299.67" stroke="#9e0000" stroke-width="1.9" fill="none"/>
<path d="M224.1 1358H238.9M231.5 1350.6V1365.4M226.17 1352.67L236.83 1363.33M226.17 1363.33L236.83 1352.67" stroke="#9e0000" stroke-width="1.9" fill="none"/>
<path d="M257.6 1345H272.4M265 1337.6V1352.4M259.67 1339.67L270.33 1350.33M259.67 1350.33L270.33 1339.67" stroke="#9e0000" stroke-width="1.9" fill="none"/>
<path d="M291.85 1371.25H306.65M299.25 1363.85V1378.65M293.92 1365.92L304.58 1376.58M293.92 1376.58L304.58 1365.92" stroke="#9e0000" stroke-width="1.9" fill="none"/>
<path d="M326.35 1415.75H341.15M333.75 1408.35V1423.15M328.42 1410.42L339.08 1421.08M328.42 1421.08L339.08 1410.42" stroke="#9e0000" stroke-width="1.9" fill="none"/>
<polyline points="163.5,1303.75 231.5,1293.75 265,1297.5 299.25,1271.25 333.75,1309.25" fill="none" stroke="#9e0000" stroke-width="4" stroke-linecap="round" stroke-linejoin="round" stroke-dasharray="7.2 11.6"/>
<path d="M156.1 1303.75H170.9M163.5 1296.35V1311.15M158.17 1298.42L168.83 1309.08M158.17 1309.08L168.83 1298.42" stroke="#9e0000" stroke-width="1.9" fill="none"/>
<path d="M224.1 1293.75H238.9M231.5 1286.35V1301.15M226.17 1288.42L236.83 1299.08M226.17 1299.08L236.83 1288.42" stroke="#9e0000" stroke-width="1.9" fill="none"/>
<path d="M257.6 1297.5H272.4M265 1290.1V1304.9M259.67 1292.17L270.33 1302.83M259.67 1302.83L270.33 1292.17" stroke="#9e0000" stroke-width="1.9" fill="none"/>
<path d="M291.85 1271.25H306.65M299.25 1263.85V1278.65M293.92 1265.92L304.58 1276.58M293.92 1276.58L304.58 1265.92" stroke="#9e0000" stroke-width="1.9" fill="none"/>
<path d="M326.35 1309.25H341.15M333.75 1301.85V1316.65M328.42 1303.92L339.08 1314.58M328.42 1314.58L339.08 1303.92" stroke="#9e0000" stroke-width="1.9" fill="none"/>
<polyline points="362.5,1366.7 486.2,1330.7 579.3,1344.8 703.3,1354.7" fill="none" stroke="#9e0000" stroke-width="4" stroke-linecap="round" stroke-linejoin="round" stroke-dasharray="7.2 11.6"/>
<path d="M355.6 1360H369.4L362.5 1373.4Z" stroke="#9e0000" stroke-width="2.0" fill="none" stroke-linejoin="miter"/>
<path d="M479.3 1324H493.1L486.2 1337.4Z" stroke="#9e0000" stroke-width="2.0" fill="none" stroke-linejoin="miter"/>
<path d="M572.4 1338.1H586.2L579.3 1351.5Z" stroke="#9e0000" stroke-width="2.0" fill="none" stroke-linejoin="miter"/>
<path d="M696.4 1348H710.2L703.3 1361.4Z" stroke="#9e0000" stroke-width="2.0" fill="none" stroke-linejoin="miter"/>
<polyline points="362.5,1382 486.2,1344.3 579.3,1373.3 703.3,1333.3" fill="none" stroke="#9e0000" stroke-width="4" stroke-linecap="round" stroke-linejoin="round" stroke-dasharray="7.2 11.6"/>
<path d="M355.6 1388.7H369.4L362.5 1375.3Z" stroke="#9e0000" stroke-width="2.0" fill="none" stroke-linejoin="miter"/>
<path d="M479.3 1351H493.1L486.2 1337.6Z" stroke="#9e0000" stroke-width="2.0" fill="none" stroke-linejoin="miter"/>
<path d="M572.4 1380H586.2L579.3 1366.6Z" stroke="#9e0000" stroke-width="2.0" fill="none" stroke-linejoin="miter"/>
<path d="M696.4 1340H710.2L703.3 1326.6Z" stroke="#9e0000" stroke-width="2.0" fill="none" stroke-linejoin="miter"/>
<polyline points="362.5,1423.2 486.2,1465.3 579.3,1455.2 703.3,1468" fill="none" stroke="#9e0000" stroke-width="3.5" stroke-linejoin="round"/>
<path d="M355.6 1429.9H369.4L362.5 1416.5Z" stroke="#9e0000" stroke-width="2.0" fill="none" stroke-linejoin="miter"/>
<path d="M479.3 1472H493.1L486.2 1458.6Z" stroke="#9e0000" stroke-width="2.0" fill="none" stroke-linejoin="miter"/>
<path d="M572.4 1461.9H586.2L579.3 1448.5Z" stroke="#9e0000" stroke-width="2.0" fill="none" stroke-linejoin="miter"/>
<path d="M696.4 1474.7H710.2L703.3 1461.3Z" stroke="#9e0000" stroke-width="2.0" fill="none" stroke-linejoin="miter"/>
<polyline points="362.5,1452 486.2,1430.7 579.3,1454.1 703.3,1487.2" fill="none" stroke="#9e0000" stroke-width="3.5" stroke-linejoin="round"/>
<path d="M355.6 1445.3H369.4L362.5 1458.7Z" stroke="#9e0000" stroke-width="2.0" fill="none" stroke-linejoin="miter"/>
<path d="M479.3 1424H493.1L486.2 1437.4Z" stroke="#9e0000" stroke-width="2.0" fill="none" stroke-linejoin="miter"/>
<path d="M572.4 1447.4H586.2L579.3 1460.8Z" stroke="#9e0000" stroke-width="2.0" fill="none" stroke-linejoin="miter"/>
<path d="M696.4 1480.5H710.2L703.3 1493.9Z" stroke="#9e0000" stroke-width="2.0" fill="none" stroke-linejoin="miter"/>
<polyline points="732.3,1358.7 834.7,1360 970.9,1382.7 1072,1352" fill="none" stroke="#9e0000" stroke-width="4" stroke-linecap="round" stroke-linejoin="round" stroke-dasharray="7.2 11.6"/>
<path d="M725.7 1352.1L738.9 1365.3M725.7 1365.3L738.9 1352.1" stroke="#9e0000" stroke-width="1.8" fill="none"/>
<path d="M828.1 1353.4L841.3 1366.6M828.1 1366.6L841.3 1353.4" stroke="#9e0000" stroke-width="1.8" fill="none"/>
<path d="M964.3 1376.1L977.5 1389.3M964.3 1389.3L977.5 1376.1" stroke="#9e0000" stroke-width="1.8" fill="none"/>
<path d="M1065.4 1345.4L1078.6 1358.6M1065.4 1358.6L1078.6 1345.4" stroke="#9e0000" stroke-width="1.8" fill="none"/>
<polyline points="732.3,1368.8 834.7,1366.7 970.9,1385.3 1072,1348" fill="none" stroke="#9e0000" stroke-width="4" stroke-linecap="round" stroke-linejoin="round" stroke-dasharray="7.2 11.6"/>
<path d="M724.8 1368.8H739.8M732.3 1361.3V1376.3" stroke="#9e0000" stroke-width="1.8" fill="none"/>
<path d="M827.2 1366.7H842.2M834.7 1359.2V1374.2" stroke="#9e0000" stroke-width="1.8" fill="none"/>
<path d="M963.4 1385.3H978.4M970.9 1377.8V1392.8" stroke="#9e0000" stroke-width="1.8" fill="none"/>
<path d="M1064.5 1348H1079.5M1072 1340.5V1355.5" stroke="#9e0000" stroke-width="1.8" fill="none"/>
<polyline points="732.3,1400.8 834.7,1366.1 970.9,1368 1072,1375.2" fill="none" stroke="#9e0000" stroke-width="4" stroke-linecap="round" stroke-linejoin="round" stroke-dasharray="7.2 11.6"/>
<path d="M739.9 1400.8L736.1 1407.05L728.5 1407.05L724.7 1400.8L728.5 1394.55L736.1 1394.55Z" stroke="#9e0000" stroke-width="1.8" fill="none"/>
<circle cx="732.3" cy="1400.8" r="2.4" fill="#9e0000"/>
<path d="M842.3 1366.1L838.5 1372.35L830.9 1372.35L827.1 1366.1L830.9 1359.85L838.5 1359.85Z" stroke="#9e0000" stroke-width="1.8" fill="none"/>
<circle cx="834.7" cy="1366.1" r="2.4" fill="#9e0000"/>
<path d="M978.5 1368L974.7 1374.25L967.1 1374.25L963.3 1368L967.1 1361.75L974.7 1361.75Z" stroke="#9e0000" stroke-width="1.8" fill="none"/>
<circle cx="970.9" cy="1368" r="2.4" fill="#9e0000"/>
<path d="M1079.6 1375.2L1075.8 1381.45L1068.2 1381.45L1064.4 1375.2L1068.2 1368.95L1075.8 1368.95Z" stroke="#9e0000" stroke-width="1.8" fill="none"/>
<circle cx="1072" cy="1375.2" r="2.4" fill="#9e0000"/>
<polyline points="732.3,1440.5 834.7,1324 970.9,1402.7 1072,1346.7" fill="none" stroke="#9e0000" stroke-width="4" stroke-linecap="round" stroke-linejoin="round" stroke-dasharray="7.2 11.6"/>
<path d="M724.9 1440.5L732.3 1433.1L739.7 1440.5L732.3 1447.9Z" stroke="#9e0000" stroke-width="1.8" fill="none"/>
<circle cx="732.3" cy="1440.5" r="2.4" fill="#9e0000"/>
<path d="M827.3 1324L834.7 1316.6L842.1 1324L834.7 1331.4Z" stroke="#9e0000" stroke-width="1.8" fill="none"/>
<circle cx="834.7" cy="1324" r="2.4" fill="#9e0000"/>
<path d="M963.5 1402.7L970.9 1395.3L978.3 1402.7L970.9 1410.1Z" stroke="#9e0000" stroke-width="1.8" fill="none"/>
<circle cx="970.9" cy="1402.7" r="2.4" fill="#9e0000"/>
<path d="M1064.6 1346.7L1072 1339.3L1079.4 1346.7L1072 1354.1Z" stroke="#9e0000" stroke-width="1.8" fill="none"/>
<circle cx="1072" cy="1346.7" r="2.4" fill="#9e0000"/>
</g>
<line x1="349.8" y1="1158" x2="349.8" y2="1610.6" stroke="#000000" stroke-width="5.85" stroke-linecap="butt"/>
<line x1="718.9" y1="1160.4" x2="718.9" y2="1613.2" stroke="#000000" stroke-width="5.85" stroke-linecap="butt"/>
<line x1="1080.2" y1="1157.7" x2="1080.2" y2="1610.7" stroke="#000000" stroke-width="5.85" stroke-linecap="butt"/>
<text x="0" y="0" font-size="37.3" text-anchor="middle" transform="translate(258.5 1146.25) scale(1 1.01)" fill="#000000">G0</text>
<text x="0" y="0" font-size="37.3" text-anchor="middle" transform="translate(533.85 1147) scale(1 1.01)" fill="#000000">G1</text>
<text x="0" y="0" font-size="37.3" text-anchor="middle" transform="translate(889.3 1147) scale(1 1.01)" fill="#000000">G2</text>
</g>
<text x="-0.4" y="27.6" font-size="37.8" font-weight="bold" fill="#000000">A</text>
<text x="0" y="0" font-size="33.8" font-weight="bold" textLength="23" lengthAdjust="spacingAndGlyphs" transform="translate(2.2 579) scale(1 1.16)" stroke="#000000" stroke-width="0.6" fill="#000000">B</text>
<text x="0" y="0" font-size="35" font-weight="bold" textLength="22.4" lengthAdjust="spacingAndGlyphs" transform="translate(2.2 1111.6) scale(1 1.11)" stroke="#000000" stroke-width="0.6" fill="#000000">C</text>
<line x1="1199.6" y1="254.8" x2="1247.8" y2="254.8" stroke="#000000" stroke-width="3.8" stroke-linecap="butt"/>
<line x1="1200.3" y1="304.3" x2="1247.8" y2="304.3" stroke="#000000" stroke-width="4" stroke-linecap="round" stroke-dasharray="7.1 11.9"/>
<text x="0" y="0" font-size="32" transform="translate(1275.9 259) scale(1 1.03)" fill="#000000">Water</text>
<text x="0" y="0" font-size="32" transform="translate(1275.9 316) scale(1 1.03)" fill="#000000">Water + Enz</text>
<line x1="1189.8" y1="837.15" x2="1238" y2="837.15" stroke="#035803" stroke-width="3.6" stroke-linecap="butt"/>
<line x1="1191.3" y1="887.3" x2="1238" y2="887.3" stroke="#035803" stroke-width="4.2" stroke-linecap="round" stroke-dasharray="7.1 11.9"/>
<text x="1265.8" y="843.3" font-size="31" fill="#000000">Paraoxon</text>
<text x="1266.8" y="902.8" font-size="31.5" fill="#000000">Paraoxon +  Enz</text>
<rect x="1256.9" y="590.5" width="240.1" height="127.1" fill="none" stroke="#000" stroke-width="1.6"/>
<text x="1377.6" y="641.8" font-size="38" font-weight="bold" text-anchor="middle" textLength="196" lengthAdjust="spacingAndGlyphs" fill="#000000">1/20 NOEC</text>
<text x="1374.6" y="695.1" font-size="38" font-weight="bold" text-anchor="middle" textLength="155" lengthAdjust="spacingAndGlyphs" fill="#000000">(0.5 µM)</text>
<rect x="1256.9" y="1100.0" width="240.1" height="124.8" fill="none" stroke="#000" stroke-width="1.6"/>
<text x="1377.2" y="1149.8" font-size="38" font-weight="bold" text-anchor="middle" textLength="175" lengthAdjust="spacingAndGlyphs" fill="#000000">1/2 NOEC</text>
<text x="1375.8" y="1204.1" font-size="38" font-weight="bold" text-anchor="middle" textLength="120" lengthAdjust="spacingAndGlyphs" fill="#000000">(5 µM)</text>
<line x1="1183.4" y1="1366.3" x2="1232.3" y2="1366.3" stroke="#9e0000" stroke-width="3.8" stroke-linecap="butt"/>
<line x1="1185.2" y1="1526.8" x2="1232.3" y2="1526.8" stroke="#9e0000" stroke-width="4" stroke-linecap="round" stroke-dasharray="7.1 11.9"/>
<text x="1270.6" y="1371" font-size="31.5" fill="#000000">Paraoxon</text>
<text x="1272.6" y="1434.4" font-size="31.5" fill="#000000">Dead worms</text>
<text x="1266.6" y="1538.4" font-size="31.5" fill="#000000">Paraoxon +  Enz</text>
<text x="1230.3" y="1448" font-size="52" font-weight="bold" text-anchor="middle" fill="#9e0000">*</text>
<text x="719.6" y="1605.2" font-size="107" font-weight="bold" text-anchor="middle" fill="#9e0000">*</text>
<text x="0" y="0" font-size="33.5" text-anchor="middle" textLength="185.5" lengthAdjust="spacingAndGlyphs" transform="translate(599.6 1694.7) scale(1 1.03)" fill="#000000">Time (days)</text>
<path d="M111.9 1757.8H124.3M118.1 1751.6V1764M113.64 1753.34L122.56 1762.26M113.64 1762.26L122.56 1753.34" stroke="#000000" stroke-width="1.3" fill="none"/>
<text x="0" y="0" font-size="25.6" transform="translate(139.4 1769.6) scale(1 1.01)" fill="#000000">Intact worm</text>
<path d="M298.6 1753.2H309.4L304 1764.8Z" stroke="#000000" stroke-width="1.4" fill="none" stroke-linejoin="miter"/>
<text x="0" y="0" font-size="25.4" transform="translate(321.4 1769.6) scale(1 1.01)" fill="#000000">Head fragment</text>
<path d="M298.6 1803.8H309.4L304 1792.2Z" stroke="#000000" stroke-width="1.4" fill="none" stroke-linejoin="miter"/>
<text x="0" y="0" font-size="25.4" transform="translate(320.6 1806.4) scale(1 1.01)" fill="#000000">Tail fragment</text>
<path d="M618.1 1760.5L624.4 1754.2L630.7 1760.5L624.4 1766.8Z" stroke="#000000" stroke-width="1.5" fill="none"/>
<circle cx="624.4" cy="1760.5" r="2.2" fill="#000000"/>
<text x="0" y="0" font-size="25.4" transform="translate(645 1769.6) scale(1 1.01)" fill="#000000">Head-Head fragment</text>
<path d="M631 1797.5L627.7 1802.93L621.1 1802.93L617.8 1797.5L621.1 1792.07L627.7 1792.07Z" stroke="#000000" stroke-width="1.5" fill="none"/>
<circle cx="624.4" cy="1797.5" r="2.2" fill="#000000"/>
<text x="0" y="0" font-size="25.4" transform="translate(645 1806.4) scale(1 1.01)" fill="#000000">Head-Tail fragment</text>
<path d="M937.7 1752.7L950.9 1765.9M937.7 1765.9L950.9 1752.7" stroke="#000000" stroke-width="1.5" fill="none"/>
<text x="0" y="0" font-size="25.4" transform="translate(963.4 1769.6) scale(1 1.01)" fill="#000000">Tail-Head fragment</text>
<path d="M937.7 1796.8H950.9M944.3 1790.2V1803.4" stroke="#000000" stroke-width="1.5" fill="none"/>
<text x="0" y="0" font-size="25.4" transform="translate(962.6 1806.4) scale(1 1.01)" fill="#000000">Tail-Tail fragment</text>
</svg>
</body>
</html>
